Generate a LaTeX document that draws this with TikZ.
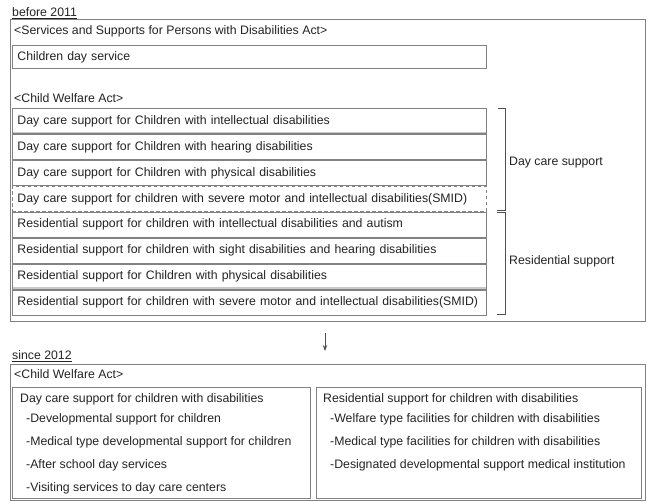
\documentclass[tikz,border=0pt]{standalone}
\usepackage{fontspec}
\setmainfont{Liberation Sans}
\usetikzlibrary{arrows.meta}
\definecolor{txt}{RGB}{35,35,35}
\definecolor{bord}{RGB}{130,130,130}
\definecolor{brk}{RGB}{80,80,80}
\definecolor{shade}{RGB}{200,200,200}
\newcommand{\fs}{\fontsize{12.3}{15}\selectfont}
\tikzset{
  lbl/.style={font=\fs, text=txt, inner sep=0pt, anchor=west},
  frame/.style={draw=bord, line width=0.8pt},
  rowbox/.style={draw=bord, line width=0.8pt, anchor=north west, minimum width=474pt,
     minimum height=25pt, text width=464pt, inner xsep=5pt, inner ysep=0pt, align=left,
     font=\fs, text=txt},
  dashbox/.style={rowbox, dashed, dash pattern=on 3.5pt off 2.5pt},
  shadowline/.style={draw=shade, line width=1.6pt},
  bracket/.style={draw=brk, line width=0.8pt},
  arr/.style={draw=brk, line width=0.8pt, -{Stealth[length=6pt,width=4.5pt]}},
  inbox/.style={draw=bord, line width=0.8pt, anchor=north west, inner sep=0pt},
}
\begin{document}
\begin{tikzpicture}[x=1pt,y=-1pt]
\useasboundingbox (0,0) rectangle (648,501);
% ---------- before 2011 ----------
\node[lbl] (before) at (12,13) {\underline{before 2011}};
\node[frame, anchor=north west, minimum width=635pt, minimum height=302pt, inner sep=0pt] (outerA) at (10,19) {};
\node[lbl] (ssact) at (14,31) {<Services and Supports for Persons with Disabilities Act>};
\node[rowbox, minimum height=23pt] (cds) at (12,45) {Children day service};
\node[lbl] (cwaA) at (14,98) {<Child Welfare Act>};
\node[rowbox] (d1) at (12,108) {Day care support for Children with intellectual disabilities};
\node[rowbox] (d2) at (12,134) {Day care support for Children with hearing disabilities};
\node[rowbox] (d3) at (12,160) {Day care support for Children with physical disabilities};
\node[dashbox] (d4) at (12,186) {\mbox{Day care support for children with severe motor and intellectual disabilities(SMID)}};
\node[rowbox] (r1) at (12,211.5) {Residential support for children with intellectual disabilities and autism};
\node[rowbox] (r2) at (12,237.5) {Residential support for children with sight disabilities and hearing disabilities};
\node[rowbox] (r3) at (12,263.5) {Residential support for Children with physical disabilities};
\node[rowbox] (r4) at (12,289.5) {\mbox{Residential support for children with severe motor and intellectual disabilities(SMID)}};
% faint shadow bands under some boxes
\draw[shadowline] ([xshift=0.8pt,yshift=1.2pt]d1.south west) -- ([xshift=-0.8pt,yshift=1.2pt]d1.south east);
\draw[shadowline] ([xshift=0.8pt,yshift=1.2pt]r3.south west) -- ([xshift=-0.8pt,yshift=1.2pt]r3.south east);
% brackets
\coordinate (b1a) at (498,108);
\coordinate (b1b) at (505,108);
\coordinate (b1c) at (505,210);
\coordinate (b1d) at (497,210);
\draw[bracket] (b1a) -- (b1b) -- (b1c) -- (b1d);
\coordinate (b2a) at (497,212);
\coordinate (b2b) at (505,212);
\coordinate (b2c) at (505,314);
\coordinate (b2d) at (497,314);
\draw[bracket] (b2a) -- (b2b) -- (b2c) -- (b2d);
\node[lbl] (dcs) at (509,163) {Day care support};
\node[lbl] (rs) at (509,261) {Residential support};
% arrow
\coordinate (arrTop) at (325,333);
\coordinate (arrBot) at (325,351);
\draw[arr] (arrTop) -- (arrBot);
% ---------- since 2012 ----------
\node[lbl] (since) at (12,356) {\underline{since 2012}};
\node[frame, anchor=north west, minimum width=635pt, minimum height=136pt, inner sep=0pt] (outerB) at (10,364) {};
\node[lbl] (cwaB) at (14,374) {<Child Welfare Act>};
\node[inbox, minimum width=298pt, minimum height=111pt] (left) at (12,387) {};
\node[inbox, minimum width=325pt, minimum height=111pt] (right) at (316,387) {};
\node[lbl] (lt) at (20,399) {Day care support for children with disabilities};
\node[lbl] (l1) at (26,419) {-Developmental support for children};
\node[lbl] (l2) at (26,442) {-Medical type developmental support for children};
\node[lbl] (l3) at (26,465) {-After school day services};
\node[lbl] (l4) at (26,488) {-Visiting services to day care centers};
\node[lbl] (rt) at (323,399) {Residential support for children with disabilities};
\node[lbl] (q1) at (330,419) {-Welfare type facilities for children with disabilities};
\node[lbl] (q2) at (330,442) {-Medical type facilities for children with disabilities};
\node[lbl] (q3) at (330,465) {-Designated developmental support medical institution};
\end{tikzpicture}
\end{document}
